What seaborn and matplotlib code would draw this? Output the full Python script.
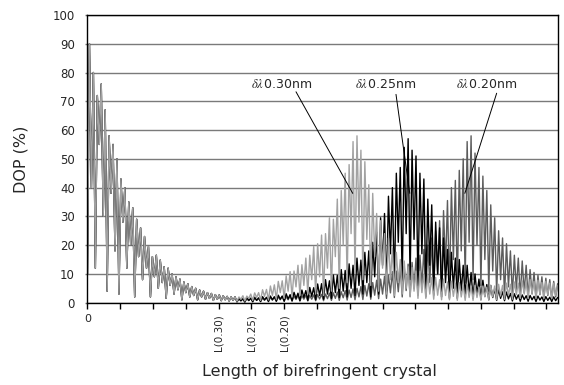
import numpy as np
import pandas as pd
import seaborn as sns
import matplotlib
matplotlib.use("Agg")
import matplotlib.pyplot as plt

sns.set_style("white")
plt.rcParams["font.family"] = ["DejaVu Sans"]
plt.rcParams["mathtext.fontset"] = "stix"

# Sampling step along the crystal length (in tick units)
SAMPLE_STEP = 0.06

# DOP (%) at the start of the crystal: common fast decay of all three traces
# (trough, peak pairs)
decay_common = [
    10, 90, 40, 80, 12, 72, 55, 76, 30, 67,
    4, 58, 38, 55, 18, 50, 3, 43, 28, 40,
    12, 35, 20, 33, 2, 29, 16, 26, 8, 23,
    12, 19.5, 2, 16, 9, 16.5, 5, 14.8, 7, 12.5,
    1.5, 12, 6, 10, 3, 9, 4.5, 8.2, 1, 7.2,
    3.5, 6.6, 2, 5.6, 2.5, 5, 1, 4.4, 2, 4,
    1.2, 3.5, 1.5, 3.2, 0.8, 2.8, 1.2, 2.7, 0.7, 2.4,
    1.0, 2.2, 0.6, 2, 0.8, 2,
]

# Revival part of each trace (trough, peak pairs)
tail_030 = [
    0.5, 2, 1.2, 2.4, 0.6, 2.3, 1.5, 3, 0.8, 3.4,
    1.8, 3.5, 0.8, 4.5, 2.2, 4.6, 1, 5.8, 2.5, 6.2,
    1.2, 7.4, 3.5, 7.6, 1.5, 9.3, 4, 10.8, 2, 11,
    5.5, 13, 2.5, 13.2, 6, 15.5, 3, 16.5, 8, 19.5,
    3, 20.5, 9, 23.5, 2.5, 24, 12, 29.5, 4, 29,
    16, 36, 5, 39, 20, 45, 7, 48, 24, 56,
    10, 58, 28, 53, 8, 49, 22, 41, 6, 38,
    16, 31, 4, 28.5, 12, 24, 3, 22.5, 8, 19,
    2.5, 17.5, 7, 15, 3, 14.5, 5, 12.5, 2, 12.2,
    4, 11, 1.5, 10.8, 3.5, 9.8, 1.5, 9.8, 3, 8.8,
    1.2, 8.8, 2.6, 8, 1, 8.2, 2.5, 7.2, 1, 7.5,
    2.2, 6.8, 0.8, 7, 2, 6.2, 0.8, 6.4, 1.8, 5.8,
    0.8, 6, 1.8, 5.4, 0.8, 5.8, 2, 5.4, 1, 6,
    2, 5.8, 1, 6.4, 2.3, 6, 1.2, 6.8, 2.5, 6.4,
    1.2, 7.2, 2.8, 6.8, 1.5, 7.6, 3, 7.2, 1.5, 8,
    3.2, 7.4, 1.5, 7.8, 3, 7, 1.5, 7.4, 2.8, 6.8,
    1.4, 6.8, 2.5, 6,
]

tail_025 = [
    0.3, 1.5, 0.7, 1.3, 0.2, 1.8, 0.8, 1.5, 0.3, 1.9,
    0.8, 1.6, 0.4, 2.1, 1, 1.8, 0.4, 2.3, 1, 2,
    0.5, 2.6, 1.2, 2.3, 0.5, 3.1, 1.3, 2.8, 0.6, 3.6,
    1.5, 3.3, 0.7, 4.4, 1.8, 4.2, 0.8, 5.3, 2.2, 5.2,
    1, 6.5, 2.5, 6.6, 1.2, 8, 3, 7.6, 1.5, 9.6,
    3.5, 9.5, 1.8, 11.5, 4, 11.2, 2, 13.5, 5, 13,
    2.5, 15.5, 6, 14.8, 3, 17.5, 7, 18, 2, 21,
    9, 24.5, 3, 29.5, 13, 31, 4, 37, 17, 40,
    5, 45, 21, 47, 7, 54, 24, 57, 8, 53,
    22, 51, 6, 45, 17, 43, 4, 36, 13, 34,
    3, 28, 10, 26, 2, 22.5, 7, 18.5, 1.5, 17.5,
    5, 15.5, 1.5, 15, 4, 13, 2, 13, 3.5, 10.5,
    1.5, 10, 2.8, 8.2, 1.2, 7.8, 2.2, 6.3, 1, 6,
    1.8, 4.8, 0.8, 4.6, 1.5, 3.8, 0.7, 3.7, 1.3, 3.2,
    0.6, 3.1, 1.2, 2.7, 0.5, 2.7, 1.1, 2.4, 0.5, 2.5,
    1, 2.2, 0.4, 2.3, 0.9, 2, 0.4, 2.1, 0.8, 1.9,
    0.4, 2, 0.7, 1.8,
]

tail_020 = [
    0.3, 1.2, 0.6, 1.4, 0.3, 1.3, 0.7, 1.6, 0.4, 1.5,
    0.8, 1.7, 0.4, 1.6, 0.8, 1.9, 0.5, 1.8, 0.9, 2.1,
    0.5, 2, 1, 2.2, 0.5, 2.1, 1, 2.4, 0.6, 2.3,
    1.1, 2.5, 0.6, 2.4, 1.2, 2.6, 0.6, 2.5, 1.2, 2.7,
    0.7, 2.8, 1.3, 2.9, 0.7, 3, 1.4, 3.3, 0.8, 3.4,
    1.5, 3.7, 0.8, 3.8, 1.7, 4.2, 0.9, 4.4, 1.8, 4.8,
    1, 5, 2, 5.6, 1.1, 6, 2.3, 6.6, 1.2, 7,
    2.6, 7.8, 1.4, 8.2, 3, 9.2, 1.5, 9.5, 3.4, 10.8,
    1.8, 11, 3.8, 12.3, 2, 12.5, 4.2, 13.4, 2.2, 14,
    5, 15.5, 2.6, 16.5, 6, 18.5, 2, 20, 7, 22.5,
    2.5, 25, 10, 28.5, 3, 32, 12, 35.5, 4, 40,
    15, 42.5, 5, 46, 18, 50, 7, 56, 21, 58,
    8, 52, 20, 47, 6, 44, 15, 39, 4, 34,
    11, 29.5, 3, 25, 8, 22.5, 2, 20.5, 5.5, 18,
    2.5, 16.5, 4.5, 15.5, 2, 14.5, 3.5, 13, 1.8, 11.5,
    3, 10.5, 1.5, 9.5, 2.8, 9, 1.4, 8.5, 2.5, 8,
    1.2, 7.4, 2, 6.6,
]

dop_030 = decay_common + tail_030
dop_025 = decay_common + tail_025
dop_020 = decay_common + tail_020

y_ticks = list(range(0, 101, 10))
x_ticks = list(range(0, 15))
x_tick_labels = ["0", "", "", "", "L(0.30)", "L(0.25)", "L(0.20)",
                 "", "", "", "", "", "", "", ""]

# Curve labels, leader-line start (near text) and end (on the trace)
labels = [r"$\delta\lambda\,$0.30nm", r"$\delta\lambda\,$0.25nm", r"$\delta\lambda\,$0.20nm"]
label_pos = [(5.92, 75.7), (9.08, 75.7), (12.16, 75.7)]
leader_from = [(6.36, 73.3), (9.41, 72.4), (12.48, 72.8)]
leader_to = [(8.09, 38), (9.83, 38), (11.51, 38)]


def frame(values):
    return pd.DataFrame({
        "length": np.arange(len(values)) * SAMPLE_STEP,
        "dop": values,
    })


fig = plt.figure(figsize=(5.64, 3.85), dpi=100)
ax = fig.add_axes([0.1551, 0.2138, 0.8342, 0.7473])

for values, color in [(dop_020, "#5c5c5c"), (dop_025, "#000000"), (dop_030, "#a2a2a2")]:
    sns.lineplot(data=frame(values), x="length", y="dop", color=color,
                 lw=1.0, estimator=None, sort=False, ax=ax)

ax.set_xlim(0, 14.35)
ax.set_ylim(0, 100)

ax.set_yticks(y_ticks)
ax.set_yticklabels([str(v) for v in y_ticks], fontsize=8.5)
ax.yaxis.grid(True, color="#7a7a7a", lw=1.0)
ax.set_axisbelow(True)

ax.set_xticks(x_ticks)
ax.set_xticklabels(x_tick_labels, fontsize=8)
for lbl in ax.get_xticklabels():
    if lbl.get_text().startswith("L"):
        lbl.set_rotation(90)
        lbl.set_fontsize(7.5)
        lbl.set_va("top")
        lbl.set_ha("center")

ax.tick_params(axis="x", direction="out", length=4, width=1, color="black", pad=4, bottom=True)
ax.tick_params(axis="y", direction="out", length=1.5, width=1, color="#7a7a7a", pad=7.5, left=True)

for spine in ax.spines.values():
    spine.set_visible(True)
    spine.set_color("black")
    spine.set_linewidth(1.0)

ax.set_xlabel("Length of birefringent crystal", fontsize=11.5)
ax.set_ylabel("DOP (%)", fontsize=11.5)
ax.xaxis.set_label_coords(0.492, -0.214)
ax.yaxis.set_label_coords(-0.125, 0.5)

for text, pos, p0, p1 in zip(labels, label_pos, leader_from, leader_to):
    ax.text(pos[0], pos[1], text, fontsize=9, ha="center", va="center", zorder=5)
    ax.annotate("", xy=p1, xytext=p0,
                arrowprops=dict(arrowstyle="-", lw=0.7, color="black",
                                shrinkA=0, shrinkB=0), zorder=6)

fig.savefig("out.png", dpi=100)
